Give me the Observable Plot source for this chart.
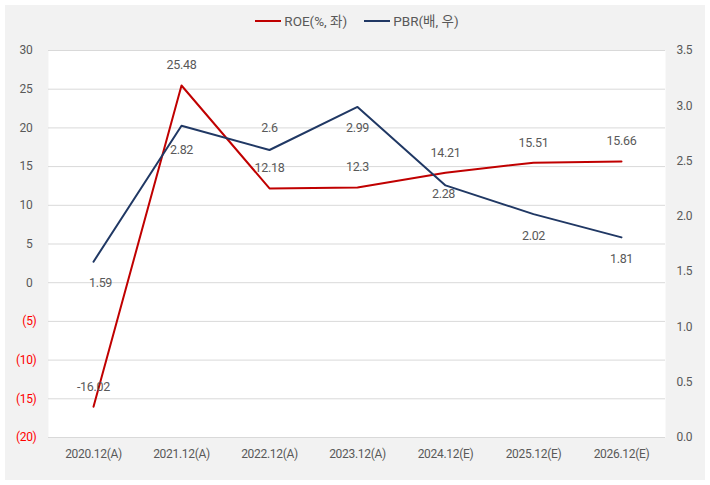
<!DOCTYPE html>
<html>
<head>
<meta charset="utf-8">
<script src="https://cdn.jsdelivr.net/npm/d3@7"></script>
<script src="https://cdn.jsdelivr.net/npm/@observablehq/plot@0.6"></script>
<style>
  body { margin: 0; background: #ffffff; font-family: Roboto, "Noto Sans CJK KR", sans-serif; }
  #panel { position: absolute; left: 5px; top: 5px; width: 700px; height: 475px; background: #f2f2f2; }
  #wrap { position: relative; width: 710px; }
  #legend { height: 40px; box-sizing: border-box; padding-top: 12px; display: flex; justify-content: center; align-items: flex-start; gap: 17px; font-size: 13.5px; color: #595959; line-height: 18px; padding-left: 4px; }
  .item { display: flex; align-items: center; gap: 3px; height: 18px; }
  .swatch { width: 26px; height: 2px; }
</style>
</head>
<body>
<div id="panel"></div>
<div id="wrap">
  <div id="legend"></div>
  <div id="chart"></div>
</div>
<script>
const categories = ["2020.12(A)", "2021.12(A)", "2022.12(A)", "2023.12(A)", "2024.12(E)", "2025.12(E)", "2026.12(E)"];
const roe = [-16.02, 25.48, 12.18, 12.3, 14.21, 15.51, 15.66];
const pbr = [1.59, 2.82, 2.6, 2.99, 2.28, 2.02, 1.81];
const roeTicks = [-20, -15, -10, -5, 0, 5, 10, 15, 20, 25, 30];
const pbrTicks = [0, 0.5, 1.0, 1.5, 2.0, 2.5, 3.0, 3.5];
const seriesNames = ["ROE(%, 좌)", "PBR(배, 우)"];

// style (label offsets, colours)
const roeColor = "#c00000";
const pbrColor = "#203864";
const textColor = "#595959";
const roeLabelDy = -20;
const pbrLabelDy = [21, 24, -22, 21, 9, 22, 22];
const pbrLabelDx = [7, 0, 0, 0, -2, 0, 0];

// map PBR (0..3.5) onto ROE axis (-20..30)
const toLeft = p => -20 + p * (50 / 3.5);
const fromLeft = v => (v + 20) * (3.5 / 50);

const fmtLeft = d => d < 0 ? `(${-d})` : `${d}`;

const legend = document.getElementById("legend");
[[seriesNames[0], roeColor], [seriesNames[1], pbrColor]].forEach(([name, c]) => {
  const it = document.createElement("div");
  it.className = "item";
  it.innerHTML = `<span class="swatch" style="background:${c}"></span><span>${name}</span>`;
  legend.appendChild(it);
});

const idx = d3.range(categories.length);

const marks = [
  Plot.frame({fill: "white", stroke: null}),
  Plot.ruleY(roeTicks, {stroke: "#d9d9d9", strokeWidth: 1}),
  Plot.axisY(roeTicks.filter(d => d >= 0), {anchor: "left", tickSize: 0, tickPadding: 16, tickFormat: fmtLeft, fill: textColor, label: null, fontSize: 12}),
  Plot.axisY(roeTicks.filter(d => d < 0), {anchor: "left", tickSize: 0, tickPadding: 12, tickFormat: fmtLeft, fill: "#ff0000", label: null, fontSize: 12}),
  Plot.axisY(pbrTicks.map(toLeft), {anchor: "right", tickSize: 0, tickPadding: 11, tickFormat: d => fromLeft(d).toFixed(1), fill: textColor, label: null, fontSize: 12}),
  Plot.axisX(categories, {anchor: "bottom", tickSize: 0, tickPadding: 12, fill: textColor, label: null, fontSize: 12}),
  Plot.line(idx, {x: i => categories[i], y: i => roe[i], stroke: roeColor, strokeWidth: 2}),
  Plot.line(idx, {x: i => categories[i], y: i => toLeft(pbr[i]), stroke: pbrColor, strokeWidth: 2}),
  Plot.text(idx, {x: i => categories[i], y: i => roe[i], text: i => String(roe[i]), dy: roeLabelDy, fill: textColor, fontSize: 12.5}),
  ...idx.map(i => Plot.text([i], {x: j => categories[j], y: j => toLeft(pbr[j]), text: j => String(pbr[j]), dy: pbrLabelDy[i], dx: pbrLabelDx[i], fill: textColor, fontSize: 12.5}))
];

const chart = Plot.plot({
  width: 710,
  height: 445,
  marginLeft: 48,
  marginRight: 45,
  marginTop: 10,
  marginBottom: 48,
  style: {background: "transparent", color: textColor, fontFamily: 'Roboto, "Noto Sans CJK KR", sans-serif', fontSize: "12px", letterSpacing: "-0.3px"},
  x: {type: "point", domain: categories, padding: 0.5},
  y: {domain: [-20, 30]},
  marks
});
document.getElementById("chart").appendChild(chart);
</script>
</body>
</html>
